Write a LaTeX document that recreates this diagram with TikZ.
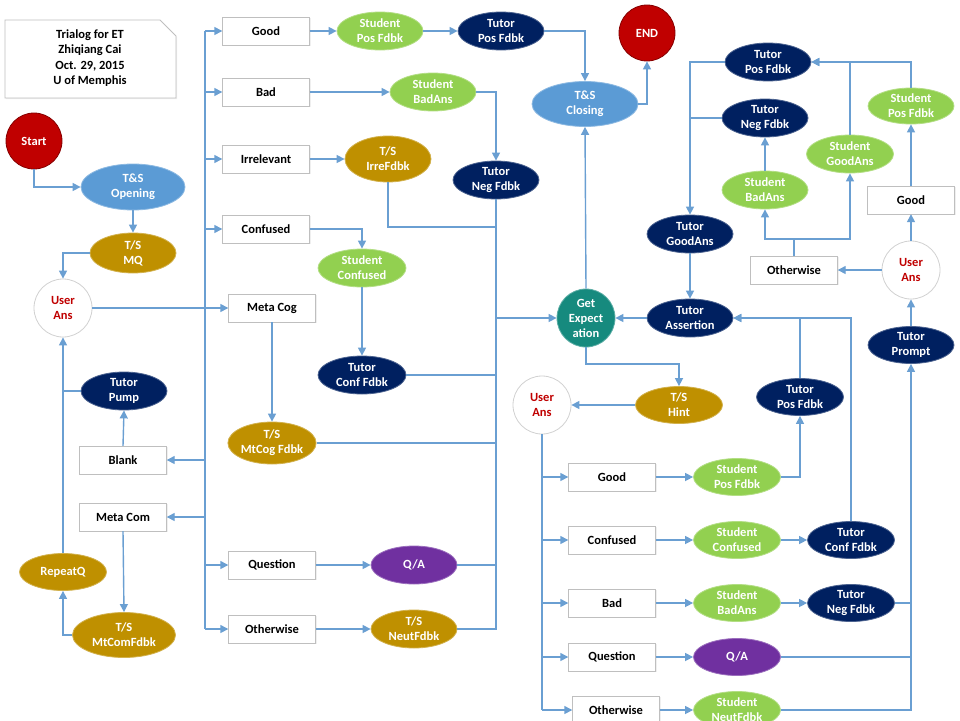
\documentclass[tikz,border=0pt]{standalone}
\usepackage{fontspec}
\setmainfont{Carlito}
\usetikzlibrary{shapes.geometric,arrows.meta,shadows}
\definecolor{lblue}{HTML}{5B9BD5}
\definecolor{gold}{HTML}{BF9000}
\definecolor{navy}{HTML}{002060}
\definecolor{lgreen}{HTML}{92D050}
\definecolor{purp}{HTML}{7030A0}
\definecolor{dred}{HTML}{C00000}
\definecolor{teal2}{HTML}{168A7E}
\definecolor{conncol}{HTML}{6A9FD2}
\tikzset{
  txt/.style={font=\bfseries\fontsize{12.5}{15}\selectfont, align=center, inner sep=0pt},
  ell/.style={txt, ellipse, text=white, minimum width=86pt, minimum height=38pt, line width=0.8pt},
  goldell/.style={ell, fill=gold, draw=gold!70!white},
  navyell/.style={ell, fill=navy, draw=navy!70!white},
  greenell/.style={ell, fill=lgreen, draw=lgreen!70!white},
  purpell/.style={ell, fill=purp, draw=purp!70!white},
  blueell/.style={ell, fill=lblue, draw=lblue!70!white},
  boxn/.style={txt, rectangle, draw=black!25, fill=white, minimum width=87pt, minimum height=28pt,
     drop shadow={opacity=0.12, shadow xshift=1pt, shadow yshift=-1pt}},
  uacirc/.style={txt, circle, draw=black!18, fill=white, text=dred, minimum size=58pt, line width=0.8pt},
  conn/.style={draw=conncol, line width=1.4pt},
  arr/.style={conn, -{Triangle[length=8pt,width=8pt]}},
}
\begin{document}
\begin{tikzpicture}[x=1pt,y=-1pt]
\clip (0,0) rectangle (960,720);
\fill[white] (0,0) rectangle (960,720);

% title
\draw[black!25, fill=white, line width=0.8pt, drop shadow={opacity=0.12, shadow xshift=1pt, shadow yshift=-1pt}]
  (5,20) -- (160,20) -- (176,36) -- (176,98) -- (5,98) -- cycle;
\node[txt, font=\bfseries\fontsize{12.5}{15.5}\selectfont] (title) at (90,58) {Trialog for ET\\Zhiqiang Cai\\Oct. 29, 2015\\U of Memphis};

% left part
\node[txt, circle, fill=dred, draw=dred!70!black, text=white, minimum size=56pt, line width=0.8pt] (start) at (34,141) {Start};
\node[blueell, minimum width=104pt, minimum height=46pt] (open) at (133,187) {T\&S\\Opening};
\node[goldell, minimum height=40pt] (mq) at (133,253) {T/S\\MQ};
\node[uacirc] (ua1) at (63,308) {User\\Ans};
\node[navyell] (pump) at (124,391) {Tutor\\Pump};
\node[boxn] (blank) at (123,460) {Blank};
\node[boxn] (mcom) at (123,517) {Meta Com};
\node[goldell, minimum width=87pt, minimum height=37pt] (rep) at (63,572) {RepeatQ};
\node[goldell, minimum width=103pt, minimum height=45pt] (mcomf) at (124,635) {T/S\\MtComFdbk};

\coordinate (bus) at (205,31);
\coordinate (busb) at (205,629);

\node[boxn] (good1) at (266,31) {Good};
\node[boxn] (bad1) at (266,92) {Bad};
\node[boxn] (irr) at (266,159) {Irrelevant};
\node[boxn] (conf1) at (266,229) {Confused};
\node[boxn] (mcog) at (272,308) {Meta Cog};
\node[boxn] (quest1) at (272,565) {Question};
\node[boxn] (oth1) at (272,629) {Otherwise};

\node[greenell] (spf1) at (380,31) {Student\\Pos Fdbk};
\node[navyell] (tpf1) at (501,31) {Tutor\\Pos Fdbk};
\node[greenell] (sba1) at (433,92) {Student\\BadAns};
\node[goldell, minimum height=46pt] (irrf) at (388,159) {T/S\\IrreFdbk};
\node[navyell] (tnf1) at (496,180) {Tutor\\Neg Fdbk};
\node[greenell, minimum width=88pt] (sconf1) at (362,268) {Student\\Confused};
\node[navyell, minimum width=88pt] (tcf1) at (362,375) {Tutor\\Conf Fdbk};
\node[goldell, minimum width=88pt, minimum height=42pt] (mcogf) at (272,443) {T/S\\MtCog Fdbk};
\node[purpell] (qa1) at (414,565) {Q/A};
\node[goldell] (neut1) at (414,629) {T/S\\NeutFdbk};

\node[blueell, minimum width=106pt, minimum height=45pt] (close) at (585,104) {T\&S\\Closing};
\node[txt, circle, fill=dred, draw=dred!70!black, text=white, minimum size=56pt, line width=0.8pt] (endn) at (647,33) {END};
\node[txt, circle, fill=teal2, draw=teal2!70!white, text=white, minimum size=58pt, line width=0.8pt] (gexp) at (586,318) {Get\\Expect\\ation};

% right upper
\node[navyell] (tas) at (690,318) {Tutor\\Assertion};
\node[navyell] (tga) at (690,234) {Tutor\\GoodAns};
\node[navyell] (tpf2) at (768,62) {Tutor\\Pos Fdbk};
\node[navyell] (tnf2) at (765,118) {Tutor\\Neg Fdbk};
\node[greenell] (sba2) at (765,190) {Student\\BadAns};
\node[greenell, minimum width=87pt] (sga) at (850,154) {Student\\GoodAns};
\node[greenell, minimum height=36pt] (spf2) at (911,106) {Student\\Pos Fdbk};
\node[boxn] (good2) at (911,200) {Good};
\node[uacirc] (ua2) at (911,270) {User\\Ans};
\node[boxn] (oth2) at (794,270) {Otherwise};
\node[navyell, minimum height=37pt] (tprompt) at (911,345) {Tutor\\Prompt};

% right lower
\node[goldell, minimum width=87pt, minimum height=37pt] (hint) at (679,405) {T/S\\Hint};
\node[uacirc] (ua3) at (542,405) {User\\Ans};
\node[navyell, minimum width=87pt, minimum height=37pt] (tpf3) at (800,397) {Tutor\\Pos Fdbk};
\node[boxn] (good3) at (612,477) {Good};
\node[boxn] (conf3) at (612,540) {Confused};
\node[boxn] (bad3) at (612,603) {Bad};
\node[boxn] (quest3) at (612,657) {Question};
\node[boxn] (oth3) at (616,710) {Otherwise};
\node[greenell, minimum width=87pt, minimum height=37pt] (spf3) at (737,477) {Student\\Pos Fdbk};
\node[greenell, minimum width=87pt, minimum height=37pt] (sconf3) at (737,540) {Student\\Confused};
\node[navyell, minimum width=87pt, minimum height=37pt] (tcf3) at (851,540) {Tutor\\Conf Fdbk};
\node[greenell, minimum width=87pt, minimum height=37pt] (sba3) at (737,603) {Student\\BadAns};
\node[navyell, minimum width=87pt, minimum height=37pt] (tnf3) at (851,603) {Tutor\\Neg Fdbk};
\node[purpell, minimum width=87pt, minimum height=37pt] (qa3) at (737,657) {Q/A};
\node[greenell, minimum width=87pt, minimum height=37pt] (sneut3) at (737,710) {Student\\NeutFdbk};

% ---------- connectors ----------
\draw[arr] (start.south) |- (open.west);
\draw[arr] (open.south) -- (mq.north);
\draw[arr] (mq.west) -| (ua1.north);
\draw[conn] (bus) -- (busb);
\draw[arr] (ua1.east) -- (mcog.west);
\foreach \n in {good1,bad1,irr,conf1,quest1,oth1}{
  \draw[arr] (\n.west -| bus) -- (\n.west);
}
\draw[arr] (blank.east -| bus) -- (blank.east);
\draw[arr] (mcom.east -| bus) -- (mcom.east);

\draw[arr] (good1.east) -- (spf1.west);
\draw[arr] (spf1.east) -- (tpf1.west);
\draw[arr] (tpf1.east) -| (close.north);
\draw[arr] (close.east) -| (endn.south);
\draw[arr] (bad1.east) -- (sba1.west);
\draw[arr] (sba1.east) -| (tnf1.north);
\draw[arr] (irr.east) -- (irrf.west);
\coordinate (j1) at (496,227);
\draw[conn] (irrf.south) |- (j1);
\draw[conn] (tnf1.south) |- (neut1.east);
\draw[arr] (conf1.east) -| (sconf1.north);
\draw[arr] (sconf1.south) -- (tcf1.north);
\draw[conn] (tcf1.east) -- (tcf1.east -| tnf1.south);
\draw[arr] (mcog.south) -- (mcogf.north);
\draw[conn] (mcogf.east) -- (mcogf.east -| tnf1.south);
\draw[arr] (quest1.east) -- (qa1.west);
\draw[conn] (qa1.east) -- (qa1.east -| tnf1.south);
\draw[arr] (oth1.east) -- (neut1.west);
\draw[arr] (gexp.west -| tnf1.south) -- (gexp.west);

\draw[arr] (blank.north) -- (pump.south);
\draw[conn] (pump.west) -- (pump.west -| ua1.south);
\draw[arr] (mcom.south) -- (mcomf.north);
\draw[arr] (mcomf.west) -| (rep.south);
\draw[arr] (rep.north) -- (ua1.south);

\draw[arr] (gexp.north) -- (close.south);
\draw[arr] (tas.west) -- (gexp.east);
\draw[arr] (tga.south) -- (tas.north);
\draw[arr] (tpf2.west) -| (tga.north);
\draw[conn] (tnf2.west) -- (tnf2.west -| tga.north);
\draw[arr] (sba2.north) -- (tnf2.south);
\draw[arr] (sga.north) |- (tpf2.east);
\draw[arr] (spf2.north) |- (tpf2.east);
\draw[arr] (good2.north) -- (spf2.south);
\draw[arr] (ua2.north) -- (good2.south);
\draw[arr] (ua2.west) -- (oth2.east);
\coordinate (j2) at (794,239);
\draw[conn] (oth2.north) -- (j2);
\draw[arr] (j2) -| (sba2.south);
\draw[arr] (j2) -| (sga.south);
\draw[arr] (tprompt.north) -- (ua2.south);

\coordinate (j3) at (586,364);
\draw[arr] (gexp.south) -- (j3) -| (hint.north);
\draw[arr] (hint.west) -- (ua3.east);
\draw[conn] (ua3.south) -- (ua3.south |- oth3.west);
\foreach \n in {good3,conf3,bad3,quest3,oth3}{
  \draw[arr] (\n.west -| ua3.south) -- (\n.west);
}
\draw[arr] (good3.east) -- (spf3.west);
\draw[arr] (spf3.east) -| (tpf3.south);
\draw[arr] (tpf3.north) |- (tas.east);
\draw[arr] (conf3.east) -- (sconf3.west);
\draw[arr] (sconf3.east) -- (tcf3.west);
\draw[arr] (tcf3.north) |- (tas.east);
\draw[arr] (bad3.east) -- (sba3.west);
\draw[arr] (sba3.east) -- (tnf3.west);
\draw[conn] (tnf3.east) -- (tnf3.east -| tprompt.south);
\draw[arr] (quest3.east) -- (qa3.west);
\draw[conn] (qa3.east) -- (qa3.east -| tprompt.south);
\draw[arr] (oth3.east) -- (sneut3.west);
\draw[arr] (sneut3.east) -| (tprompt.south);
\end{tikzpicture}
\end{document}
